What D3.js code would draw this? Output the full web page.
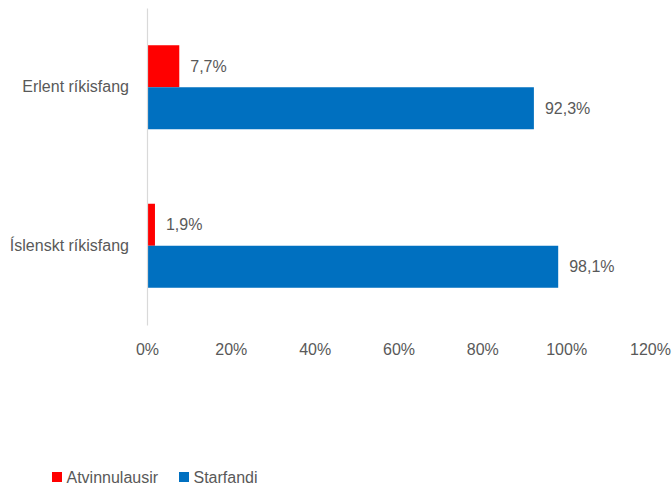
<!DOCTYPE html>
<html><head><meta charset="utf-8">
<script src="https://cdn.jsdelivr.net/npm/d3@7"></script>
<style>
html,body{margin:0;padding:0;background:#fff;}
text{font-family:"Liberation Sans",Arial,sans-serif;fill:#595959;}
</style></head>
<body><svg id="c" width="672" height="486"></svg>
<script>
const categories = ["Erlent ríkisfang", "Íslenskt ríkisfang"];
const seriesNames = ["Atvinnulausir", "Starfandi"];
const atvinnulausir = [7.7, 1.9];
const starfandi = [92.3, 98.1];
const ticks = [0, 20, 40, 60, 80, 100, 120];
const colors = ["#FF0000", "#0070C0"];

const svg = d3.select("#c");
const fs = 16;
const plotLeft = 147, plotRight = 650, plotTop = 8, plotBottom = 325;

const x = d3.scaleLinear().domain([0, 120]).range([plotLeft, plotRight]);
const y = d3.scaleBand().domain(categories).range([plotTop, plotBottom]).paddingInner(0.47).paddingOuter(0.235);
const sub = d3.scaleBand().domain(seriesNames).range([0, y.bandwidth()]);

const series = [atvinnulausir, starfandi];
const fmt = v => d3.format(".1f")(v).replace(".", ",") + "%";

series.forEach((vals, si) => {
  const g = svg.append("g");
  g.selectAll("rect").data(categories).join("rect")
    .attr("x", x(0))
    .attr("y", (c) => y(c) + sub(seriesNames[si]))
    .attr("width", (c, i) => x(vals[i]) - x(0))
    .attr("height", sub.bandwidth())
    .attr("fill", colors[si]);
  g.selectAll("text").data(categories).join("text")
    .attr("x", (c, i) => x(vals[i]) + 11)
    .attr("y", (c) => y(c) + sub(seriesNames[si]) + sub.bandwidth() / 2)
    .attr("dy", "0.35em")
    .style("font-size", fs + "px")
    .text((c, i) => fmt(vals[i]));
});

// category axis
const yAxis = d3.axisLeft(y).tickSize(0).tickPadding(18);
const ga = svg.append("g").attr("transform", `translate(${plotLeft},0)`).call(yAxis);
ga.select(".domain").attr("stroke", "#d9d9d9").attr("stroke-width", 1.2);
ga.selectAll("text").style("font-size", fs + "px").attr("fill", "#595959").attr("font-family", null);

// value axis labels (no line)
const xAxis = d3.axisBottom(x).tickValues(ticks).tickSize(0).tickPadding(0).tickFormat(d => d + "%");
const gx = svg.append("g").attr("transform", `translate(0,344)`).call(xAxis);
gx.select(".domain").remove();
gx.selectAll("text").style("font-size", fs + "px").attr("fill", "#595959").attr("font-family", null);

// legend
const legendX = [52, 179];
const lg = svg.append("g");
seriesNames.forEach((n, i) => {
  lg.append("rect").attr("x", legendX[i]).attr("y", 472).attr("width", 10).attr("height", 10).attr("fill", colors[i]);
  lg.append("text").attr("x", legendX[i] + 14.5).attr("y", 477).attr("dy", "0.35em").style("font-size", fs + "px").text(n);
});
</script></body></html>
